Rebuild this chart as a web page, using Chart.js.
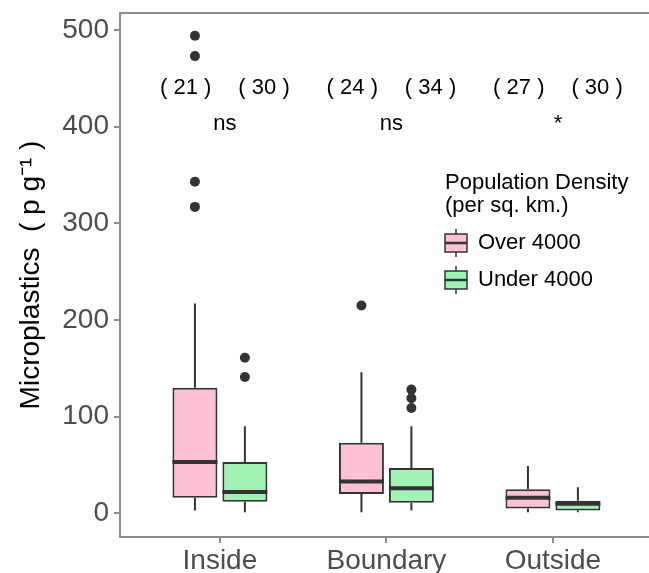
<!DOCTYPE html>
<html>
<head>
<meta charset="utf-8">
<script src="https://cdn.jsdelivr.net/npm/chart.js@4/dist/chart.umd.min.js"></script>
<style>
  body { margin: 0; background: #fff; }
  #wrap { width: 649px; height: 573px; }
</style>
</head>
<body>
<div id="wrap"><canvas id="chart"></canvas></div>
<script>
// Data
const categories = ['Inside', 'Boundary', 'Outside'];
const groups = ['Over 4000', 'Under 4000'];
const yTicks = [0, 100, 200, 300, 400, 500];

// five number summaries [low whisker, q1, median, q3, high whisker]
const overStats = [
    [3, 16, 53, 130, 217],
    [1, 20, 33, 73, 146],
    [1, 5, 16, 25, 49]
];
const underStats = [
    [1, 12, 22, 53, 90],
    [3, 11, 26, 47, 90],
    [1, 3, 10, 13, 27]
];
const overOutliers = [[317, 343, 473, 494], [215], []];
const underOutliers = [[141, 161], [109, 119, 128], []];

const overN = [21, 24, 27];
const underN = [30, 34, 30];
const signif = ['ns', 'ns', '*'];

const fills = ['#FFC1D3', '#A0F2B5'];
const lineCol = '#333333';
const FONT = "'Liberation Sans', Arial, sans-serif";

function buildDataset(label, stats, outliers, i) {
    const shift = i === 0 ? -0.15 : 0.15;
    return {
        label: label,
        data: stats.map((s, k) => ({ x: k + 1 + shift, y: [s[1], s[3]] })),
        stats: stats,
        outliers: outliers,
        backgroundColor: fills[i],
        borderColor: lineCol,
        borderWidth: 2,
        borderSkipped: false,
        grouped: false,
        categoryPercentage: 1,
        barPercentage: 0.9
    };
}

// whiskers, medians, outliers, count labels, legend
const boxExtras = {
    id: 'boxExtras',
    afterDatasetsDraw(chart) {
        const ctx = chart.ctx;
        const ys = chart.scales.y, xs = chart.scales.x;
        const area = chart.chartArea;
        ctx.save();
        chart.data.datasets.forEach((ds, d) => {
            const meta = chart.getDatasetMeta(d);
            meta.data.forEach((bar, k) => {
                const s = ds.stats[k];
                const x = bar.x, half = bar.width / 2;
                ctx.strokeStyle = lineCol;
                ctx.lineWidth = 2;
                ctx.beginPath();
                ctx.moveTo(x, ys.getPixelForValue(s[3]));
                ctx.lineTo(x, ys.getPixelForValue(s[4]));
                ctx.moveTo(x, ys.getPixelForValue(s[1]));
                ctx.lineTo(x, ys.getPixelForValue(s[0]));
                ctx.stroke();
                ctx.lineWidth = 4;
                ctx.beginPath();
                ctx.moveTo(x - half, ys.getPixelForValue(s[2]));
                ctx.lineTo(x + half, ys.getPixelForValue(s[2]));
                ctx.stroke();
                ctx.fillStyle = lineCol;
                ds.outliers[k].forEach(v => {
                    ctx.beginPath();
                    ctx.arc(x, ys.getPixelForValue(v), 5, 0, Math.PI * 2);
                    ctx.fill();
                });
            });
        });

        // top frame line
        ctx.strokeStyle = '#8c8c8c';
        ctx.lineWidth = 2;
        ctx.beginPath();
        ctx.moveTo(area.left, area.top);
        ctx.lineTo(area.right, area.top);
        ctx.stroke();

        // sample sizes and significance
        ctx.fillStyle = '#000';
        ctx.font = '22px ' + FONT;
        ctx.textAlign = 'center';
        ctx.textBaseline = 'middle';
        categories.forEach((c, k) => {
            ctx.fillText('( ' + overN[k] + ' )', xs.getPixelForValue(k + 1 - 0.205), ys.getPixelForValue(440));
            ctx.fillText('( ' + underN[k] + ' )', xs.getPixelForValue(k + 1 + 0.265), ys.getPixelForValue(440));
            ctx.fillText(signif[k], xs.getPixelForValue(k + 1 + 0.03), ys.getPixelForValue(403));
        });

        // legend
        ctx.textAlign = 'left';
        ctx.fillText('Population Density', 445, 183);
        ctx.fillText('(per sq. km.)', 445, 206);
        groups.forEach((g, i) => {
            const cy = 243 + i * 37;
            ctx.strokeStyle = lineCol;
            ctx.lineWidth = 1.5;
            ctx.beginPath();
            ctx.moveTo(456, cy - 14);
            ctx.lineTo(456, cy + 14);
            ctx.stroke();
            ctx.fillStyle = fills[i];
            ctx.fillRect(445, cy - 9, 22, 18);
            ctx.strokeRect(445, cy - 9, 22, 18);
            ctx.lineWidth = 2.5;
            ctx.beginPath();
            ctx.moveTo(445, cy);
            ctx.lineTo(467, cy);
            ctx.stroke();
            ctx.fillStyle = '#000';
            ctx.fillText(g, 478, cy);
        });
        ctx.restore();
    }
};

const chart = new Chart(document.getElementById('chart'), {
    type: 'bar',
    data: {
        datasets: [
            buildDataset(groups[0], overStats, overOutliers, 0),
            buildDataset(groups[1], underStats, underOutliers, 1)
        ]
    },
    options: {
        responsive: true,
        maintainAspectRatio: false,
        animation: false,
        layout: { padding: { top: 13, right: 0, left: 0, bottom: 0 } },
        plugins: { legend: { display: false }, tooltip: { enabled: false } },
        scales: {
            x: {
                type: 'linear',
                offset: false,
                min: 0.4,
                max: 3.577,
                afterBuildTicks: s => { s.ticks = categories.map((c, k) => ({ value: k + 1 })); },
                afterFit: s => { s.height = 36; s.paddingLeft = 0; s.paddingRight = 0; },
                ticks: {
                    callback: v => categories[v - 1],
                    font: { family: FONT, size: 28 },
                    color: '#4d4d4d',
                    padding: 1,
                    maxRotation: 0,
                    autoSkip: false
                },
                grid: { offset: false, drawOnChartArea: false, color: '#8c8c8c', lineWidth: 2, tickLength: 6 },
                border: { display: true, color: '#8c8c8c', width: 2 }
            },
            y: {
                min: -24.5,
                max: 517.6,
                afterBuildTicks: s => { s.ticks = yTicks.map(v => ({ value: v })); },
                afterFit: s => { s.width = 120; s.paddingTop = 0; s.paddingBottom = 0; },
                ticks: {
                    font: { family: FONT, size: 28 },
                    color: '#4d4d4d',
                    padding: 5
                },
                grid: { drawOnChartArea: false, color: '#8c8c8c', lineWidth: 2, tickLength: 6 },
                border: { display: true, color: '#8c8c8c', width: 2 },
                title: {
                    display: true,
                    text: 'Microplastics  ( p g\u207B\u00B9 )',
                    font: { family: FONT, size: 28 },
                    color: '#000',
                    padding: { top: 14, bottom: 0 }
                }
            }
        }
    },
    plugins: [boxExtras]
});
</script>
</body>
</html>
